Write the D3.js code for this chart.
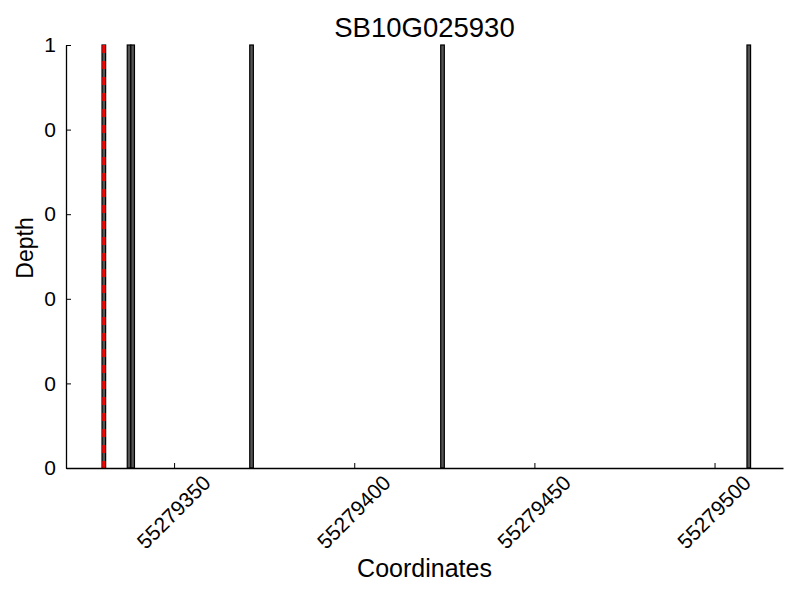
<!DOCTYPE html>
<html>
<head>
<meta charset="utf-8">
<script src="https://cdn.jsdelivr.net/npm/d3@7"></script>
<style>
  body { margin: 0; background: #fff; }
  text { font-family: "Liberation Sans", Arial, sans-serif; fill: #000; }
</style>
</head>
<body>
<svg id="chart"></svg>
<script>
// data
const title = 'SB10G025930';
const xLabel = 'Coordinates';
const yLabel = 'Depth';
const xDomain = [55279320, 55279519];
const yDomain = [0, 1];
const binStarts = [55279330, 55279337, 55279338, 55279371, 55279424, 55279509];
const binDepths = [1, 1, 1, 1, 1, 1];
const binWidth = 1;
const markerPos = [55279330.5];
const xTicks = [55279350, 55279400, 55279450, 55279500];
const yTicks = [0, 0.2, 0.4, 0.6, 0.8, 1];
const yTickLabels = ['0', '0', '0', '0', '0', '1'];

const width = 800, height = 600;
const margin = {top: 45, right: 17, bottom: 132, left: 66};

const svg = d3.select('#chart')
    .attr('width', width)
    .attr('height', height);

const innerW = width - margin.left - margin.right;
const innerH = height - margin.top - margin.bottom;

const chart = svg.append('g')
    .attr('transform', `translate(${margin.left}, ${margin.top})`);

const xscale = d3.scaleLinear().domain(xDomain).range([0, innerW]);
const yscale = d3.scaleLinear().domain(yDomain).range([innerH, 0]);

const bins = binStarts.map((s, i) => ({s: s, d: binDepths[i]}));

// bars
chart.selectAll('rect.bin').data(bins).enter()
    .append('rect')
    .attr('class', 'bin')
    .attr('x', d => xscale(d.s))
    .attr('y', d => yscale(d.d))
    .attr('width', d => xscale(d.s + binWidth) - xscale(d.s))
    .attr('height', d => yscale(0) - yscale(d.d))
    .attr('fill', '#555')
    .attr('stroke', '#000')
    .attr('stroke-width', 1.2);

// red dashed marker
chart.selectAll('line.marker').data(markerPos).enter()
    .append('line')
    .attr('class', 'marker')
    .attr('x1', d => xscale(d))
    .attr('x2', d => xscale(d))
    .attr('y1', yscale(1))
    .attr('y2', yscale(0))
    .attr('stroke', 'red')
    .attr('stroke-width', 3)
    .attr('stroke-dasharray', '8,8');

// axes, ticks point inward
const xaxis = d3.axisBottom(xscale)
    .tickValues(xTicks)
    .tickSizeInner(-5)
    .tickSizeOuter(0)
    .tickFormat('');
const xg = chart.append('g')
    .attr('transform', `translate(0, ${innerH})`)
    .call(xaxis);
xg.select('.domain').attr('stroke', '#000').attr('stroke-width', 1.3);

xg.selectAll('.tick')
    .append('text')
    .attr('transform', 'translate(-1, 44) rotate(-45)')
    .attr('text-anchor', 'middle')
    .attr('dominant-baseline', 'central')
    .style('font-size', '21px')
    .text(d => d);

const yaxis = d3.axisLeft(yscale)
    .tickValues(yTicks)
    .tickSizeInner(-5)
    .tickSizeOuter(0)
    .tickPadding(10)
    .tickFormat((d, i) => yTickLabels[i]);
const yg = chart.append('g').call(yaxis);
yg.select('.domain').attr('stroke', '#000').attr('stroke-width', 1.3);
yg.selectAll('.tick text')
    .style('font-size', '21px')
    .style('font-family', '"Liberation Sans", Arial, sans-serif')
    .attr('fill', '#000');

// title and labels
svg.append('text')
    .attr('x', margin.left + innerW / 2)
    .attr('y', 37)
    .attr('text-anchor', 'middle')
    .style('font-size', '27.5px')
    .text(title);

svg.append('text')
    .attr('x', margin.left + innerW / 2)
    .attr('y', 577)
    .attr('text-anchor', 'middle')
    .style('font-size', '25px')
    .text(xLabel);

svg.append('text')
    .attr('transform', 'translate(33, 248) rotate(-90)')
    .attr('text-anchor', 'middle')
    .style('font-size', '23px')
    .text(yLabel);
</script>
</body>
</html>
